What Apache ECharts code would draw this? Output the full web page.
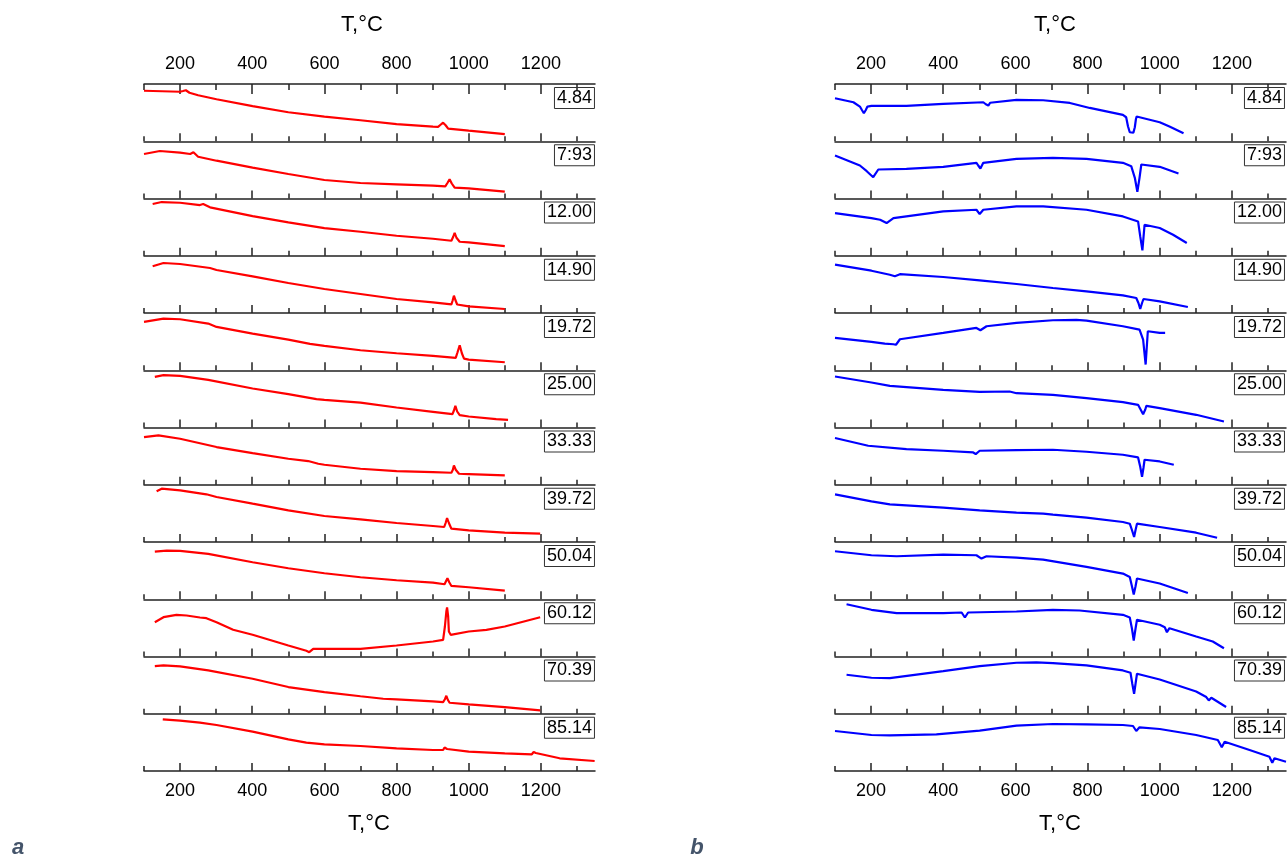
<!DOCTYPE html>
<html><head><meta charset="utf-8">
<script src="https://cdn.jsdelivr.net/npm/echarts@6/dist/echarts.min.js"></script>
<style>html,body{margin:0;padding:0;background:#fff}#c{width:1287px;height:859px}</style>
</head><body><div id="c"></div>
<script>
// ---- data ----
const rowLabels = ['4.84','7:93','12.00','14.90','19.72','25.00','33.33','39.72','50.04','60.12','70.39','85.14'];
const majorTicks = [200,400,600,800,1000,1200];
const minorTicks = [100,300,500,700,900,1100,1300];
const axisTitle = 'T,°C';

// panel a (red) - signal height within each strip, arbitrary units
const red_01 = [[100,50.5],[200,49.5],[208,50.2],[216,51],[226,48.5],[250,46],[301,42],[401,35.2],[500,29],[600,24.6],[700,21],[800,17.2],[901,14.6],[915,14.4],[922,16.5],[929,18.6],[936,16],[943,12.6],[1000,10.6],[1100,7.2]];
const red_02 = [[100,44.5],[144,47.5],[200,45.8],[228,44.5],[237,46.2],[250,41.8],[301,37.8],[401,30.8],[500,24.5],[600,18.5],[700,15.5],[800,14.2],[901,12.8],[935,12.2],[941,15.5],[947,19.2],[953,15],[961,10.8],[1000,10.2],[1100,6.8]];
const red_03 = [[124,51.7],[149,53.7],[200,53],[255,50.7],[264,51.7],[283,48.4],[401,39.7],[500,33.4],[600,27.7],[700,24],[800,20],[901,17],[952,15],[957,19],[961,23],[966,18],[975,14],[1000,13.4],[1100,9.7]];
const red_04 = [[124,46.7],[154,50],[200,49],[283,45],[301,43],[401,36.7],[500,30],[600,24],[700,19],[800,14],[901,10.7],[952,8.7],[955,12],[959,17.3],[963,13],[968,8.5],[973,7.3],[1000,6.7],[1100,4]];
const red_05 = [[100,48.3],[154,51.7],[200,51],[278,46.7],[301,43.3],[401,36.7],[500,30.7],[560,26.3],[600,24.3],[700,20],[800,17],[901,14.3],[964,12.3],[969,18],[975,25],[981,17],[987,11.7],[1000,10.7],[1100,8]];
const red_06 = [[130,50.6],[154,52.3],[200,51.6],[278,47.6],[401,39],[500,33.3],[578,28.3],[600,27.6],[700,24.8],[800,20],[901,15.6],[955,13.3],[959,17],[963,21.6],[968,16],[975,12.3],[1000,11],[1076,8.3],[1109,7.6]];
const red_07 = [[100,47.7],[140,49.3],[200,46],[301,37.7],[401,31.7],[500,26],[555,23.7],[583,21],[600,20],[700,16],[800,13.7],[901,12.7],[952,12],[956,15],[959,19.3],[964,15],[973,11],[1000,10.7],[1100,9.3]];
const red_08 = [[135,50.7],[149,53.3],[200,51.7],[273,47.7],[301,45],[401,38.3],[500,31.7],[600,26],[700,22.7],[800,19],[901,16],[932,15],[936,19],[940,24],[945,19],[952,13.3],[1000,11.7],[1100,9.3],[1198,8.3]];
const red_09 = [[130,47.7],[163,48.7],[200,48.3],[278,45.3],[401,37],[500,31],[600,26],[700,22],[800,19],[901,16.7],[933,15],[937,18],[941,21],[946,17],[952,13.3],[1000,12],[1100,8.7]];
const red_10 = [[130,34.3],[154,39.3],[190,41.7],[218,41],[255,39],[273,38.3],[301,34.3],[347,26.7],[401,21.7],[500,11],[550,5.7],[558,4.3],[569,7.7],[600,7.7],[700,7.7],[800,11],[901,15],[929,16.7],[934,30],[938,45],[940,49],[943,40],[945,25],[950,21.7],[1000,25],[1049,26.7],[1100,30],[1198,39.3]];
const red_11 = [[130,47.7],[154,48.3],[200,47.3],[278,43.3],[401,35],[500,26.7],[600,21.7],[700,17.5],[763,15],[800,14.3],[901,12.3],[929,11.7],[934,14.5],[938,18],[942,14],[947,11],[1000,9.3],[1100,6.7],[1198,3.3]];
const red_12 = [[152,51.7],[200,50.3],[255,48.3],[301,46],[401,39.3],[500,31.7],[550,28.3],[600,26.7],[700,25],[800,22.7],[901,21],[929,21],[933,23.5],[936,25],[940,22],[945,20],[1000,19.3],[1100,17.7],[1175,16.7],[1180,19],[1183,21],[1186,18],[1189,16],[1252,12.7],[1349,10]];

// panel b (blue)
const blue_01 = [[100,43],[151,39],[169,34.7],[175,31],[180,28],[185,31],[190,34.7],[201,35.3],[298,35.3],[400,37.3],[511,39],[518,37],[525,35.7],[530,38.5],[534,39.7],[603,41.3],[677,41],[751,38.3],[806,33.3],[898,26.3],[907,24],[912,15],[917,9],[922,7],[927,8.5],[931,14],[934,22],[936,24.7],[1000,19],[1027,14.7],[1066,8]];
const blue_02 = [[100,43],[169,33],[188,27.3],[206,21.3],[220,29],[298,29.7],[400,31.7],[492,35.7],[497,33],[503,30],[511,35.7],[603,39.7],[704,40.7],[797,39.7],[898,35.7],[921,32.3],[931,20.7],[938,6.7],[944,20.7],[949,34],[1000,31.7],[1052,25]];
const blue_03 = [[100,42.7],[201,37.7],[225,36],[243,32.7],[262,37.7],[400,44.3],[492,46],[501,41.7],[511,46],[603,49.3],[677,49.3],[797,46],[898,39.3],[940,34.3],[946,19.3],[952,5.3],[958,31],[963,32],[1000,27.7],[1037,21],[1075,12.7]];
const blue_04 = [[100,48.3],[201,42.3],[252,38.3],[266,36.8],[280,38.8],[400,36],[501,32.7],[603,29],[704,25],[797,21.7],[898,17.7],[935,15],[941,10],[946,4],[951,10],[955,14],[1000,11.7],[1078,6]];
const blue_05 = [[100,32.3],[201,28.3],[238,26.7],[262,26],[269,25.5],[275,28.5],[280,31],[400,37.3],[492,42.3],[503,40],[520,44],[603,47.3],[704,50],[769,50.3],[797,49.7],[898,44],[944,40.7],[954,30.7],[961,5.7],[967,39],[1000,37.3],[1015,37.3]];
const blue_06 = [[100,51],[201,45],[252,41.7],[400,37.7],[501,35.7],[584,36],[603,34.3],[704,32.7],[797,29.3],[898,25.3],[940,22.7],[947,18],[954,13.3],[960,18],[963,21.7],[1000,19.3],[1101,12.7],[1178,6]];
const blue_07 = [[100,46.7],[192,39],[298,35.7],[400,34],[483,32.3],[490,30.7],[501,34],[603,34.7],[704,35],[797,33],[898,30],[940,27.3],[946,18],[951,8],[955,17],[958,25],[1000,23.3],[1039,20]];
const blue_08 = [[100,47.7],[201,40.7],[252,37.7],[400,34.3],[501,31.7],[603,29.3],[677,28.3],[704,27.3],[797,24.3],[898,20],[917,18.3],[923,12],[929,5],[933,12],[937,18.3],[1000,15],[1101,9.3],[1159,4.3]];
const blue_09 = [[100,48],[201,44],[271,43],[400,44.7],[492,44],[506,40.7],[520,43],[603,41.7],[677,39.7],[797,32.3],[898,25.7],[917,22.3],[923,13],[928,4.7],[933,13],[937,20.7],[1000,15.7],[1078,6.3]];
const blue_10 = [[132,52.3],[201,46.7],[271,43.3],[400,43.3],[451,44],[460,39],[469,44],[603,45],[704,46.7],[778,46],[898,41.7],[917,39],[923,28],[928,16],[933,28],[937,36.7],[1000,31.7],[1014,29.3],[1020,24.3],[1027,28.3],[1101,20],[1147,15],[1178,8.3]];
const blue_11 = [[132,39],[201,36],[252,35.7],[400,42.7],[501,47.7],[603,51],[658,51.3],[704,50.7],[797,48.3],[898,43.3],[919,41],[924,30],[929,20],[933,30],[937,40],[1000,34.3],[1101,22.3],[1129,16.7],[1136,13.3],[1143,16],[1184,6.7]];
const blue_12 = [[100,40],[201,36],[252,35.7],[381,36.7],[501,40.3],[603,45.3],[704,47],[797,46.7],[898,46],[926,45],[935,40],[944,43.7],[1000,42],[1101,36],[1161,31],[1172,23.7],[1180,29.3],[1249,21],[1304,14.3],[1312,8.3],[1318,12.7],[1350,9.3]];

const redCurves = [red_01,red_02,red_03,red_04,red_05,red_06,red_07,red_08,red_09,red_10,red_11,red_12];
const blueCurves = [blue_01,blue_02,blue_03,blue_04,blue_05,blue_06,blue_07,blue_08,blue_09,blue_10,blue_11,blue_12];

// ---- layout ----
const ROW_TOP = 84, ROW_H = 57.25, PANEL_W = 451;
const panels = [
  {left: 144, color: '#ff0000', curves: redCurves, titleRight: 692, tTop: 362, tBot: 369},
  {left: 835, color: '#0000ff', curves: blueCurves, titleRight: 2, tTop: 1055, tBot: 1060}
];
const FONT = 'Arial, "Liberation Sans", sans-serif';
const axisColor = '#222';

const grids = [], xAxes = [], yAxes = [], series = [], titles = [], graphics = [];

function makeX(gi, pos, ticks, len, showLine, showLabel) {
  return {
    type: 'value', gridIndex: gi, position: pos, min: 100, max: 1350, interval: 100,
    axisLine: {show: showLine, onZero: false, lineStyle: {color: axisColor, width: 1.5}},
    axisTick: {show: true, inside: true, length: len, customValues: ticks, lineStyle: {color: axisColor, width: 1.5}},
    axisLabel: {show: showLabel, customValues: majorTicks, margin: 11, color: '#000', fontSize: 18, fontFamily: FONT,
      formatter: v => String(v)},
    splitLine: {show: false}
  };
}

panels.forEach((p, pi) => {
  for (let r = 0; r < 12; r++) {
    const gi = pi * 12 + r;
    const top = ROW_TOP + r * ROW_H;
    grids.push({left: p.left, top: top, width: PANEL_W, height: ROW_H, outerBoundsMode: 'none', containLabel: false});
    const mainIdx = xAxes.length;
    xAxes.push(makeX(gi, 'bottom', majorTicks, 8, true, r === 11));
    xAxes.push(makeX(gi, 'bottom', minorTicks, 5, false, false));
    if (r === 0) {
      xAxes.push(makeX(gi, 'top', majorTicks, 10, true, true));
      xAxes.push(makeX(gi, 'top', minorTicks, 6, false, false));
    }
    yAxes.push({type: 'value', gridIndex: gi, min: 0, max: ROW_H, show: false});
    series.push({
      type: 'line', xAxisIndex: mainIdx, yAxisIndex: gi, data: p.curves[r],
      showSymbol: false, symbol: 'none', clip: false, smooth: false,
      lineStyle: {color: p.color, width: 2.2}, silent: true
    });
    titles.push({
      text: rowLabels[r], right: p.titleRight, top: top + 3,
      padding: [2, 3, 2, 3], borderColor: '#333', borderWidth: 1,
      textStyle: {fontSize: 18, fontWeight: 'normal', color: '#000', fontFamily: FONT}
    });
  }
  graphics.push({type: 'text', x: p.tTop, y: 25, style: {text: axisTitle, font: '22px ' + FONT, fill: '#000', align: 'center', verticalAlign: 'middle', textAlign: 'center', textVerticalAlign: 'middle'}});
  graphics.push({type: 'text', x: p.tBot, y: 824, style: {text: axisTitle, font: '22px ' + FONT, fill: '#000', align: 'center', verticalAlign: 'middle', textAlign: 'center', textVerticalAlign: 'middle'}});
});
graphics.push({type: 'text', x: 18, y: 848, style: {text: 'a', font: 'italic bold 22px ' + FONT, fill: '#44546a', align: 'center', verticalAlign: 'middle', textAlign: 'center', textVerticalAlign: 'middle'}});
graphics.push({type: 'text', x: 697, y: 848, style: {text: 'b', font: 'italic bold 22px ' + FONT, fill: '#44546a', align: 'center', verticalAlign: 'middle', textAlign: 'center', textVerticalAlign: 'middle'}});

const chart = echarts.init(document.getElementById('c'), null, {renderer: 'canvas'});
chart.setOption({
  animation: false,
  backgroundColor: '#fff',
  title: titles,
  grid: grids,
  xAxis: xAxes,
  yAxis: yAxes,
  series: series,
  graphic: graphics
});
</script>
</body></html>
